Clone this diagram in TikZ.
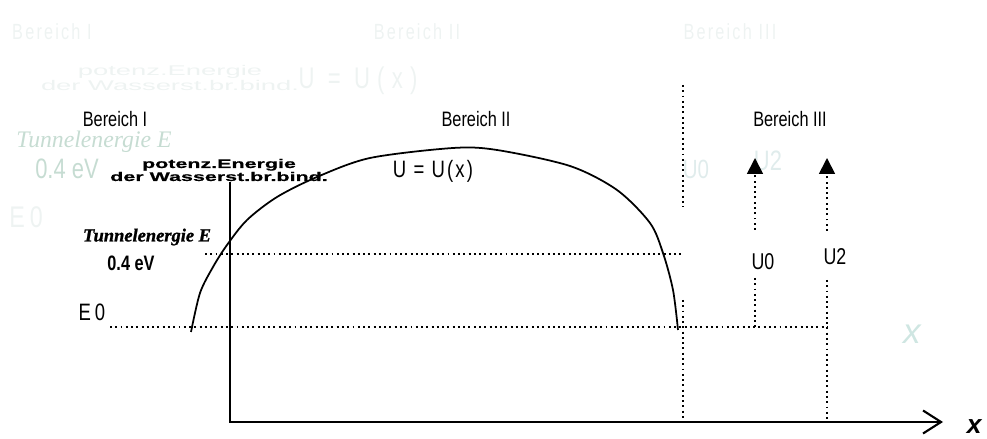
\documentclass[tikz,border=0pt]{standalone}
\usepackage{fontspec}
\usepackage{xcolor}
\usepackage{tikz}
\usetikzlibrary{arrows.meta}
\setmainfont{Liberation Sans}
\newfontfamily\narrowfont[FakeStretch=0.78]{Liberation Sans}
\newfontfamily\spacedfont[FakeStretch=0.74,LetterSpace=10]{Liberation Sans}
\newfontfamily\widefont[FakeStretch=1.72,FakeBold=0.8]{Liberation Sans}
\newfontfamily\ghostwidefont[FakeStretch=1.95]{Liberation Sans}
\newfontfamily\heavyserif[FakeBold=1.2]{Liberation Serif}
\newfontfamily\ghostserif{Liberation Serif}
\definecolor{ghostgrey}{HTML}{EEF3F2}
\definecolor{ghostgreen}{HTML}{C6DCD2}
\definecolor{ghostblue}{HTML}{E0ECEC}
\definecolor{ghostteal}{HTML}{CFE6E2}

\begin{document}
\begin{tikzpicture}[x=1cm,y=1cm,
    ghost/.style={inner sep=0pt,text=ghostgrey},
    lbl/.style={inner sep=0pt,text=black},
    dotline/.style={line width=1pt,dash pattern=on 1.1pt off 1.9pt}]
  \useasboundingbox (0,0) rectangle (19.74,8.78);

  % faint copies of the labels
  \node[ghost,font=\spacedfont\fontsize{12.5}{14}\selectfont] (gbereichi) at (1.04,8.14) {Bereich I};
  \node[ghost,font=\spacedfont\fontsize{12.5}{14}\selectfont] (gbereichii) at (8.34,8.14) {Bereich II};
  \node[ghost,font=\spacedfont\fontsize{12.5}{14}\selectfont] (gbereichiii) at (14.60,8.14) {Bereich III};
  \node[ghost,align=center,font=\ghostwidefont\fontsize{8}{8}\selectfont] (gpotenz) at (3.40,7.22) {potenz.Energie\\der Wasserst.br.bind.};
  \node[ghost,font=\spacedfont\addfontfeature{LetterSpace=24}\fontsize{17}{20}\selectfont] (gux) at (7.16,7.16) {U = U(x)};
  \node[ghost,text=ghostgreen,font=\ghostserif\itshape\fontsize{13.5}{16}\selectfont] (gtunnel) at (1.88,5.94) {Tunnelenergie E};
  \node[ghost,text=ghostgreen,font=\narrowfont\fontsize{16}{18}\selectfont] (gev) at (1.34,5.40) {0.4 eV};
  \node[ghost,font=\narrowfont\fontsize{17}{20}\selectfont] (gezero) at (0.52,4.44) {E\,0};
  \node[ghost,text=ghostblue,font=\narrowfont\fontsize{15}{18}\selectfont] (guzero) at (13.92,5.40) {U0};
  \node[ghost,text=ghostblue,font=\narrowfont\fontsize{16}{18}\selectfont] (gutwo) at (15.36,5.56) {U2};
  \node[ghost,text=ghostteal,font=\itshape\fontsize{20}{24}\selectfont] (gx) at (18.24,2.10) {x};

  % labels
  \node[lbl,font=\narrowfont\fontsize{11.9}{14}\selectfont] (bereichi) at (2.30,6.40) {Bereich I};
  \node[lbl,font=\narrowfont\fontsize{11.9}{14}\selectfont] (bereichii) at (9.52,6.40) {Bereich II};
  \node[lbl,font=\narrowfont\fontsize{11.9}{14}\selectfont] (bereichiii) at (15.80,6.40) {Bereich III};
  \node[lbl,align=center,font=\widefont\bfseries\fontsize{7.1}{7.4}\selectfont] (potenz) at (4.38,5.38) {potenz.Energie\\der Wasserst.br.bind.};
  \node[lbl,font=\narrowfont\addfontfeature{LetterSpace=9}\fontsize{13.5}{16}\selectfont] (ux) at (8.66,5.36) {U = U(x)};
  \node[lbl,font=\heavyserif\bfseries\itshape\fontsize{10.5}{12}\selectfont] (tunnel) at (2.94,4.04) {Tunnelenergie E};
  \node[lbl,font=\narrowfont\bfseries\fontsize{11.9}{14}\selectfont] (ev) at (2.62,3.52) {0.4 eV};
  \node[lbl,font=\narrowfont\fontsize{13.5}{16}\selectfont] (ezero) at (1.84,2.54) {E\,0};
  \node[lbl,font=\narrowfont\fontsize{13}{16}\selectfont] (uzero) at (15.26,3.54) {U0};
  \node[lbl,font=\narrowfont\fontsize{13}{16}\selectfont] (utwo) at (16.70,3.64) {U2};
  \node[lbl,anchor=east,font=\bfseries\itshape\fontsize{15}{18}\selectfont] (xlab) at (19.64,0.25) {x};

  % axes
  \draw[line width=1.2pt,-{Straight Barb[length=0.36cm,width=0.46cm]}] (4.60,5.14) -- (4.60,0.34) -- (18.86,0.34);

  % potential curve
  \draw[line width=1pt] plot[smooth,tension=0.5] coordinates {(3.82,2.14) (4.00,2.92) (4.26,3.44) (4.54,3.88) (4.94,4.38) (5.54,4.84) (6.34,5.24) (7.40,5.62) (9.06,5.82) (9.94,5.78) (11.40,5.46) (12.34,4.98) (13.00,4.32) (13.26,3.72) (13.46,2.98) (13.56,2.18)};

  % levels and borders
  \draw[dotline] (4.10,3.70) -- (13.66,3.70);
  \draw[dotline] (2.20,2.24) -- (16.54,2.24);
  \draw[dotline] (13.66,7.08) -- (13.66,4.64);
  \draw[dotline,line width=1.3pt] (13.66,2.78) -- (13.66,0.34);

  % arrows U0 and U2
  \coordinate (uzerofoot) at (15.10,4.18);
  \coordinate (uzerotip) at (15.10,5.62);
  \coordinate (utwofoot) at (16.54,4.16);
  \coordinate (utwotip) at (16.54,5.62);
  \draw[dotline,-{Triangle[length=0.32cm,width=0.32cm]}] (uzerofoot) -- (uzerotip);
  \draw[dotline,-{Triangle[length=0.32cm,width=0.32cm]}] (utwofoot) -- (utwotip);
  \draw[dotline] (15.10,3.22) -- (15.10,2.24);
  \draw[dotline] (16.54,3.18) -- (16.54,0.34);
\end{tikzpicture}
\end{document}
